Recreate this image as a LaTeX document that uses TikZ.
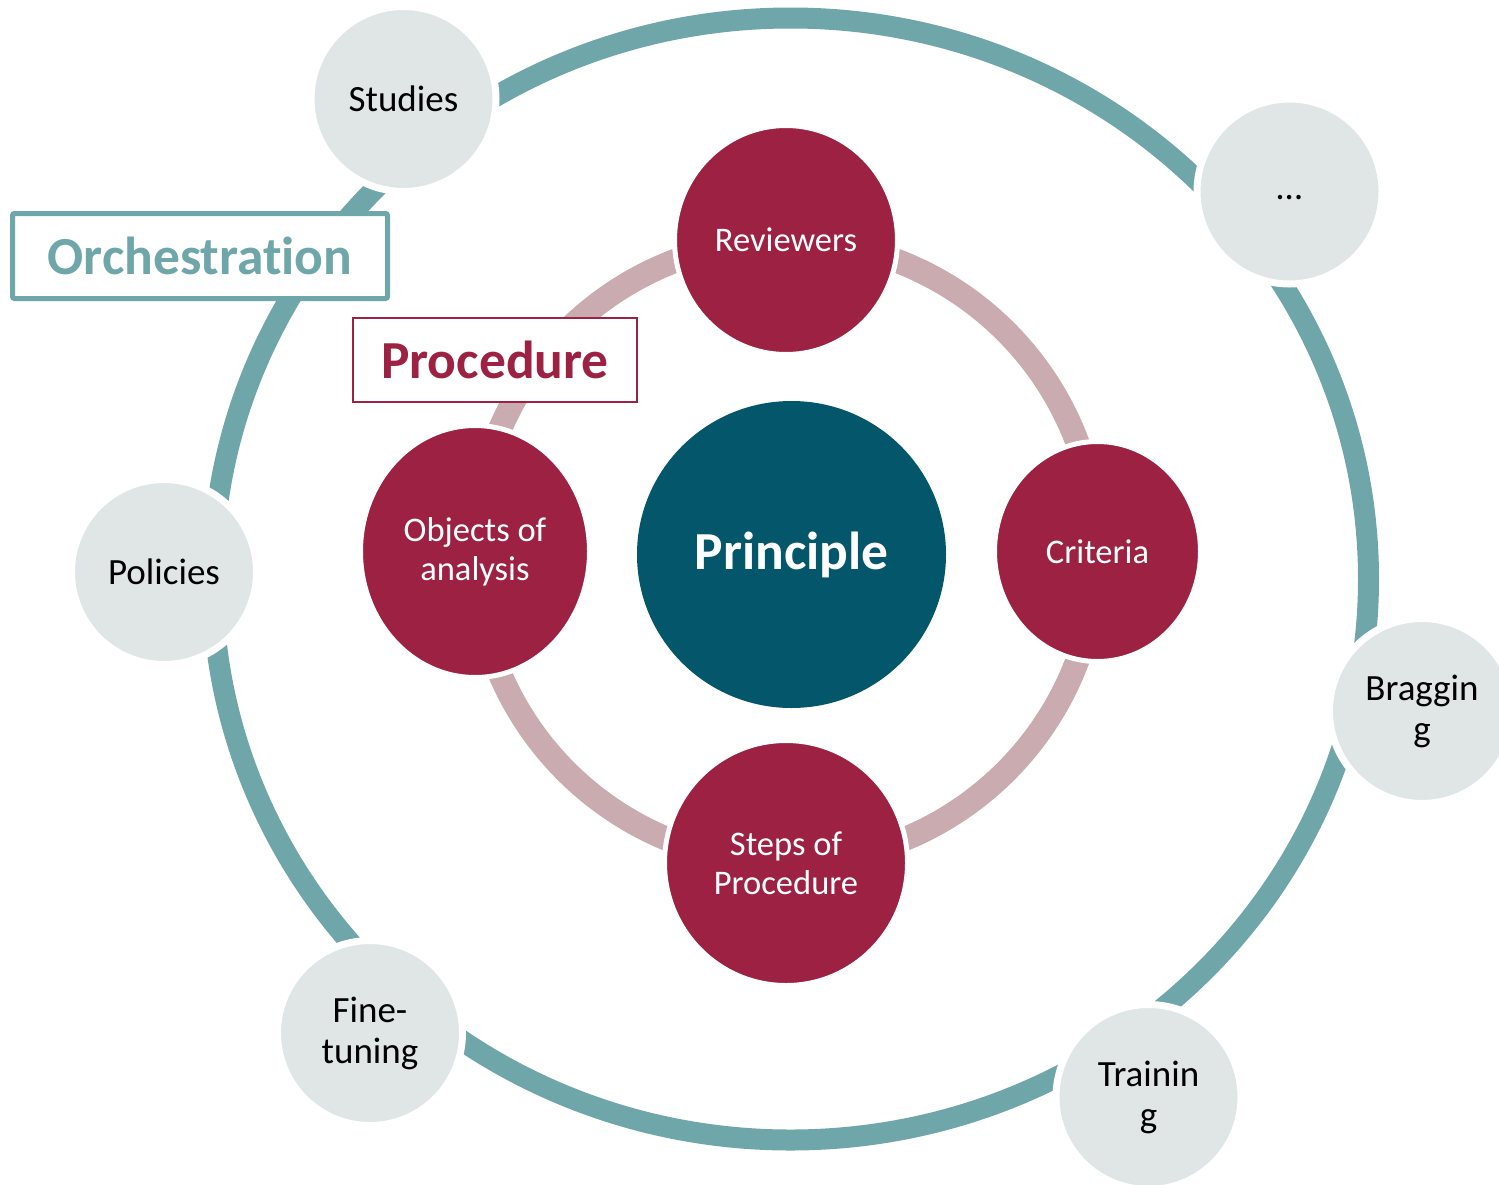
\documentclass[tikz,border=0pt]{standalone}
\usepackage{fontspec}
\setmainfont{Carlito}[RawFeature={-liga;-clig;-calt;-dlig}]
\usetikzlibrary{shapes.geometric}
\definecolor{ringteal}{HTML}{6FA6A9}
\definecolor{pinkring}{HTML}{C9ABB0}
\definecolor{crimson}{HTML}{9C2142}
\definecolor{princ}{HTML}{04566A}
\definecolor{grayfill}{HTML}{E0E6E6}
\begin{document}
\begin{tikzpicture}[x=1pt,y=-1pt,
  graynode/.style={circle, fill=grayfill, draw=white, line width=7pt, minimum size=185pt, inner sep=0pt, align=center, text=black, font=\fontsize{37}{41}\selectfont},
  crim/.style={ellipse, fill=crimson, draw=white, line width=5pt, inner sep=0pt, align=center, text=white, font=\fontsize{34.5}{39}\selectfont},
  labelbox/.style={rectangle, fill=white, inner sep=0pt, font=\bfseries\fontsize{53.5}{64}\selectfont}]
\useasboundingbox (0,0) rectangle (1499,1184);
% rings
\draw[ringteal, line width=21pt] (790.5,579) ellipse [x radius=578, y radius=561];
\draw[pinkring, line width=24pt] (786,551.5) circle [radius=311];
% outer grey circles
\node[graynode] (studies) at (403.5,99) {Studies};
\node[graynode] (etc) at (1289.5,191.5) {…\strut};
\node[graynode] (bragging) at (1422,711) {Braggin\\g};
\node[graynode] (training) at (1148.5,1097) {Trainin\\g};
\node[graynode] (finetuning) at (370,1033) {Fine-\\tuning};
\node[graynode] (policies) at (164,572) {Policies};
% procedure circles
\node[crim, minimum width=223pt, minimum height=229pt] (reviewers) at (786,240) {Reviewers};
\node[crim, minimum width=206pt, minimum height=220pt] (criteria) at (1097.5,551.5) {Criteria};
\node[crim, minimum width=243pt, minimum height=245pt] (steps) at (786,863) {Steps of\\Procedure};
\node[crim, minimum width=229pt, minimum height=252pt] (objects) at (475,551.5) {Objects of\\analysis};
% principle
\node[ellipse, fill=princ, minimum width=309pt, minimum height=307pt, inner sep=0pt, text=white, font=\bfseries\fontsize{53.5}{64}\selectfont] (principle) at (791.5,554.5) {Principle};
% label boxes
\node[labelbox, draw=ringteal, line width=5pt, rounded corners=2pt, minimum width=375pt, minimum height=85pt, text=ringteal] (orch) at (200,256) {Orchestrat\kern0pt ion};
\node[labelbox, draw=crimson, line width=2pt, minimum width=284pt, minimum height=84pt, text=crimson] (proc) at (495,360) {Procedure};
\end{tikzpicture}
\end{document}
